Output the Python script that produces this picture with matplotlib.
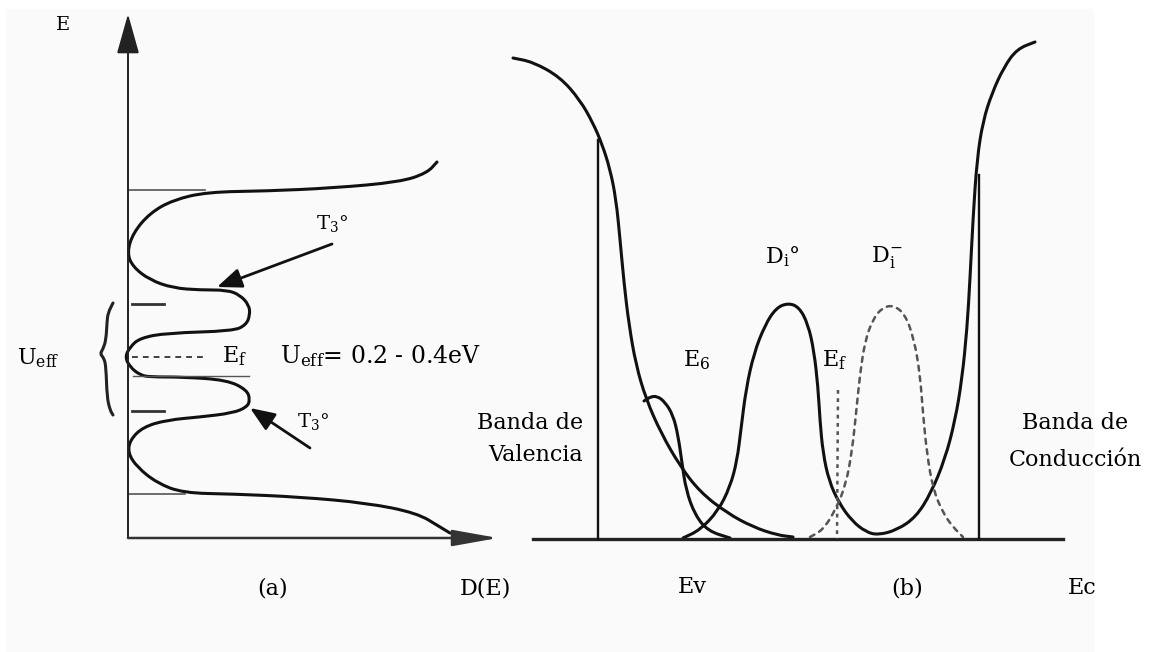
import numpy as np
import matplotlib
matplotlib.use("Agg")
import matplotlib.pyplot as plt
from matplotlib.path import Path
from matplotlib.patches import PathPatch, Rectangle
from matplotlib.transforms import Bbox, TransformedBbox

plt.rcParams['font.family'] = ['DejaVu Serif']
plt.rcParams['mathtext.fontset'] = 'dejavuserif'

W, H = 1151, 652

# ---- panel (a): D(E) (horizontal) vs E (vertical) ----
# density of states with the two T3 levels, traced as (D, E)
dos_a = [(309, 376), (299, 365), (272, 356), (205, 350), (139, 347), (79, 346),
         (45, 338), (22, 325), (5, 305), (-1, 285), (5, 271), (22, 258),
         (45, 250), (72, 248), (99, 248), (112, 243), (121, 233), (122, 223),
         (118, 213), (105, 207), (39, 205), (12, 200), (2, 191), (-3, 181),
         (2, 171), (12, 163), (22, 161), (55, 161), (99, 158), (119, 148),
         (122, 138), (119, 131), (105, 125), (72, 121), (39, 118), (15, 111),
         (2, 98), (0, 85), (9, 71), (29, 55), (55, 45), (105, 44), (172, 41),
         (239, 35), (289, 25), (312, 11), (322, 5)]
band_edges_a = [348, 44]          # E of the two band edges
band_edge_len = [77, 57]
ef_level = 181                    # Fermi level
t3_top = 162                      # upper edge of the lower T3 band
t3_marks = [234, 127]             # short level marks
ueff_brace = [(-15, 235), (-20, 225), (-21, 216), (-22, 198), (-25, 189),
              (-28, 184), (-24, 180), (-22, 171), (-21, 141), (-18, 128),
              (-15, 123)]
t3_arrows = [((204, 294), (89, 251)), ((182, 90), (122, 130))]

# ---- panel (b): density vs energy (Ev at 0) ----
valence = [(-85, 481), (-65, 477), (-38, 462), (-18, 439), (-5, 416), (4, 395),
           (12, 370), (18, 340), (22, 300), (26, 256), (31, 214), (38, 174),
           (48, 140), (63, 106), (82, 73), (102, 47), (129, 26), (155, 12),
           (179, 4), (195, 2)]
e6_peak = [(46, 138), (52, 142), (59, 143), (67, 137), (75, 124), (80, 104),
           (84, 76), (88, 49), (97, 24), (110, 8), (132, 1)]
di0_conduction = [(85, 1), (102, 9), (120, 28), (132, 52), (139, 78), (143, 110),
                  (148, 150), (156, 186), (167, 214), (178, 231), (190, 236),
                  (201, 232), (210, 215), (216, 188), (220, 152), (222, 118),
                  (225, 86), (231, 58), (241, 36), (254, 18), (268, 7),
                  (280, 4), (299, 9), (318, 22), (333, 46), (347, 80),
                  (357, 118), (364, 160), (369, 210), (372, 260), (375, 320),
                  (379, 380), (385, 418), (394, 446), (406, 472), (419, 490),
                  (437, 497)]
di_minus = [(212, 2), (225, 9), (238, 30), (248, 55), (254, 88), (258, 125),
            (262, 165), (267, 198), (275, 220), (284, 231), (295, 234),
            (307, 225), (316, 200), (322, 165), (325, 125), (329, 85),
            (335, 50), (345, 26), (355, 12), (365, 2)]
ev_pos, ev_top = 0, 399
ec_pos, ec_top = 381, 364
ef_pos, ef_top = 240, 149
axis_b = (-65, 465)


def curve(ax, pts, **kw):
    # smooth quadratic path through the midpoints of the traced points
    pts = np.asarray(pts, float)
    verts = [pts[0], (pts[0] + pts[1]) / 2]
    codes = [Path.MOVETO, Path.LINETO]
    for i in range(1, len(pts) - 1):
        verts += [pts[i], (pts[i] + pts[i + 1]) / 2]
        codes += [Path.CURVE3, Path.CURVE3]
    verts.append(pts[-1])
    codes.append(Path.LINETO)
    ax.add_patch(PathPatch(Path(verts, codes), fill=False, capstyle='round',
                           joinstyle='round', **kw))


fig = plt.figure(figsize=(W / 100, H / 100), dpi=100, facecolor='white')
fig.add_artist(Rectangle((6 / W, 0), (1093 - 6) / W, (H - 9) / H,
                         transform=fig.transFigure, color='#fafafa', zorder=0))

# both panels share the full figure, each with its own origin
ax_a = fig.add_axes([0, 0, 1, 1])
ax_a.set_xlim(-128, W - 128)
ax_a.set_ylim(538 - H, 538)
ax_b = fig.add_axes([0, 0, 1, 1])
ax_b.set_xlim(-598, W - 598)
ax_b.set_ylim(539 - H, 539)
for ax in (ax_a, ax_b):
    ax.set_axis_off()
    ax.patch.set_visible(False)

fs = 16
lw_curve = 2.2

# panel (a)
ax_a.annotate('', xy=(0, 524), xytext=(0, 0),
              arrowprops=dict(arrowstyle='-|>,head_length=1.25,head_width=0.35',
                              mutation_scale=20, lw=1.4, color='#222',
                              shrinkA=0, shrinkB=0))
ax_a.annotate('', xy=(370, 0), xytext=(0, 0),
              arrowprops=dict(arrowstyle='-|>,head_length=1.4,head_width=0.25',
                              mutation_scale=20, lw=1.8, color='#333',
                              shrinkA=0, shrinkB=0))
curve(ax_a, dos_a, lw=lw_curve, color='#111')
for e, ln in zip(band_edges_a, band_edge_len):
    ax_a.plot([0, ln], [e, e], color='#555', lw=1.2)
ax_a.plot([5, 121], [t3_top, t3_top], color='#555', lw=1.0)
ax_a.plot([4, 75], [ef_level, ef_level], color='#222', lw=1.2,
          linestyle=(0, (3.5, 3)))
for e in t3_marks:
    ax_a.plot([4, 36], [e, e], color='#333', lw=2.0)
curve(ax_a, ueff_brace, lw=lw_curve, color='#222')
for tail, tip in t3_arrows:
    ax_a.annotate('', xy=tip, xytext=tail,
                  arrowprops=dict(arrowstyle='-|>,head_length=0.75,head_width=0.3',
                                  mutation_scale=20, lw=2.0, color='#111',
                                  shrinkA=0, shrinkB=0))

ax_a.text(-65, 513, 'E', fontsize=fs - 2, ha='center', va='center')
ax_a.text(-90, 180, r'U$_{\mathrm{eff}}$', fontsize=fs, ha='center', va='center')
ax_a.text(107, 182, r'E$_{\mathrm{f}}$', fontsize=fs, ha='center', va='center')
ax_a.text(152, 182, r'U$_{\mathrm{eff}}$= 0.2 - 0.4eV', fontsize=fs + 1,
          ha='left', va='center')
ax_a.text(204, 315, r'T$_3$°', fontsize=fs - 2, ha='center', va='center')
ax_a.text(185, 116, r'T$_3$°', fontsize=fs - 2, ha='center', va='center')
ax_a.text(145, -50, '(a)', fontsize=fs, ha='center', va='center')
ax_a.text(358, -50, 'D(E)', fontsize=fs, ha='center', va='center')

# panel (b)
ax_b.plot(axis_b, [0, 0], color='#222', lw=2.4)
ax_b.plot([ev_pos, ev_pos], [0, ev_top], color='#111', lw=1.7)
ax_b.plot([ec_pos, ec_pos], [0, ec_top], color='#111', lw=1.7)
curve(ax_b, valence, lw=lw_curve, color='#111')
curve(ax_b, e6_peak, lw=lw_curve, color='#111')
curve(ax_b, di0_conduction, lw=lw_curve, color='#111')
curve(ax_b, di_minus, lw=1.8, color='#555', linestyle=(0, (2, 2.2)))
ax_b.plot([ef_pos, ef_pos - 1], [ef_top, 0], color='#555', lw=1.8,
          linestyle=(0, (1.5, 1.8)))

ax_b.text(184, 282, r'D$_{\mathrm{i}}$°', fontsize=fs, ha='center', va='center')
ax_b.text(289, 282, r'D$_{\mathrm{i}}^{-}$', fontsize=fs, ha='center', va='center')
ax_b.text(99, 179, r'E$_6$', fontsize=fs, ha='center', va='center')
ax_b.text(237, 179, r'E$_{\mathrm{f}}$', fontsize=fs, ha='center', va='center')
ax_b.text(-15, 116, 'Banda de', fontsize=fs, ha='right', va='center')
ax_b.text(-15, 84, 'Valencia', fontsize=fs, ha='right', va='center')
ax_b.text(477, 116, 'Banda de', fontsize=fs, ha='center', va='center')
ax_b.text(477, 79, 'Conducción', fontsize=fs, ha='center', va='center')
ax_b.text(94, -48, 'Ev', fontsize=fs, ha='center', va='center')
ax_b.text(309, -49, '(b)', fontsize=fs, ha='center', va='center')
ec = ax_b.text(484, -49, 'Ec', fontsize=fs, ha='center', va='center')
ec.set_clip_box(TransformedBbox(Bbox([[0, 0], [1093 / W, 1]]), fig.transFigure))

fig.savefig('out.png', dpi=100, facecolor=fig.get_facecolor())
